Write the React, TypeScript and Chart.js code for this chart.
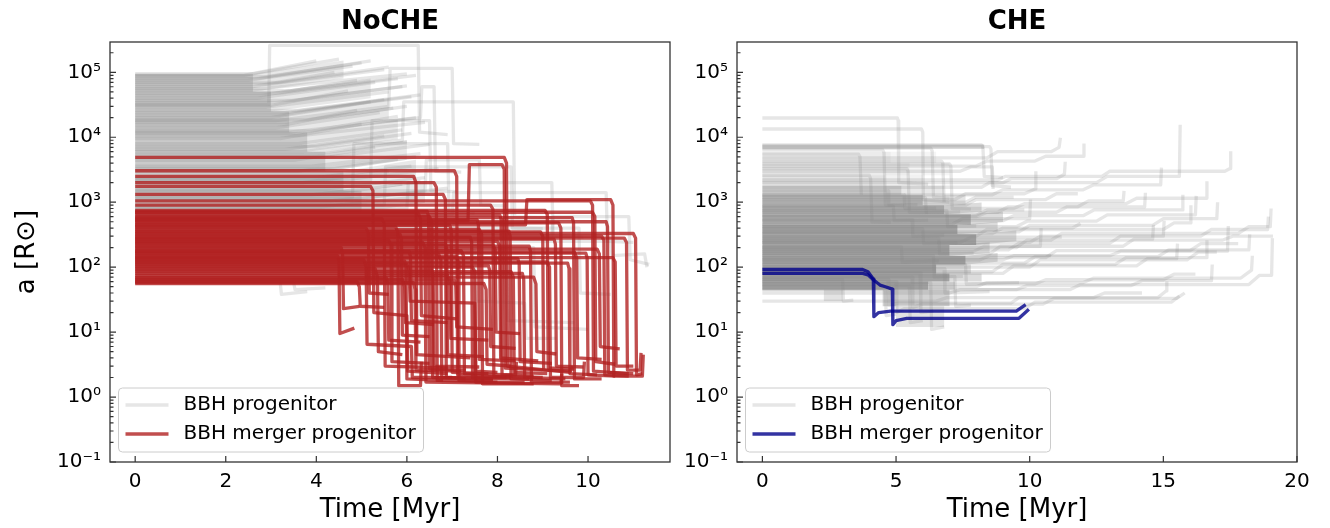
import React, { useEffect, useRef } from "react";
import { Chart, registerables } from "chart.js";

Chart.register(...registerables);

const FONT = "'DejaVu Sans', sans-serif";

// ---------------- DATA ----------------
const panelTitles = ["NoCHE", "CHE"];
const xAxisTitle = "Time [Myr]";
const yAxisTitle = "a [R⊙]";
const legendLabels = ["BBH progenitor", "BBH merger progenitor"];
const xTicksNoCHE = [0, 2, 4, 6, 8, 10];
const xTicksCHE = [0, 5, 10, 15, 20];
const yDecades = [-1, 0, 1, 2, 3, 4, 5];
const xRangeNoCHE = [-0.556, 11.81];
const xRangeCHE = [-0.95, 20];
const yRange = [0.1, 2.93e5];

// Bundles of densely packed grey tracks:
// [tStart, tFlatEnd, tEnd, aLow, aHigh, growth of a between tFlatEnd and tEnd]
const nocheGrayBundles: number[][] = [
  [0, 2.6, 4.6, 50000, 95000, 1.6],
  [0, 3.0, 5.2, 25000, 50000, 1.6],
  [0, 3.4, 5.6, 12000, 25000, 1.6],
  [0, 3.8, 5.8, 6000, 12000, 1.55],
  [0, 4.2, 6.0, 3000, 6000, 1.5],
  [0, 4.6, 6.2, 1500, 3000, 1.5],
  [0, 5.0, 6.4, 700, 1500, 1.4],
];
const nocheBundleDensity = [0.42, 0.42, 0.42, 0.42, 0.42, 0.42, 0.42];
const nocheBundleTailDensity = [0.18, 0.18, 0.18, 0.18, 0.18, 0.18, 0.18];

// Individual tracks: flat lists [t0, a0, t1, a1, ...] (Time [Myr], a [Rsun])
const nocheGray: number[][] = [
  [0, 95000, 2.6, 95000, 4.5, 160000],
  [0, 86000, 2.9, 86000, 5.0, 140000],
  [0, 76000, 2.5, 76000, 4.8, 125000],
  [0, 66000, 3.0, 66000, 5.5, 110000],
  [0, 56000, 2.8, 56000, 6.0, 95000],
  [0, 48000, 3.2, 48000, 5.8, 80000],
  [0, 40000, 2.7, 40000, 5.3, 70000],
  [0, 34000, 3.1, 34000, 5.9, 60000],
  [0, 29000, 2.9, 29000, 5.6, 50000],
  [0, 24000, 3.3, 24000, 6.1, 42000],
  [0, 20000, 3.0, 20000, 5.2, 35000],
  [0, 17000, 3.4, 17000, 5.7, 28000],
  [0, 14000, 3.1, 14000, 5.4, 24000],
  [0, 11500, 3.5, 11500, 6.2, 20000],
  [0, 9500, 3.2, 9500, 5.0, 16000],
  [0, 8000, 3.6, 8000, 5.9, 13000],
  [0, 6500, 3.3, 6500, 5.5, 10500],
  [0, 5400, 3.8, 5400, 6.0, 8500],
  [0, 4400, 3.5, 4400, 5.3, 7000],
  [0, 3600, 3.9, 3600, 6.3, 5600],
  [0, 3000, 3.6, 3000, 5.8, 4600],
  [0, 2400, 4.0, 2400, 6.1, 3600],
  [0, 2000, 3.7, 2000, 5.6, 3000],
  [0, 1600, 4.2, 1600, 6.4, 2400],
  [0, 1300, 3.9, 1300, 5.9, 1900],
  [0, 1050, 4.3, 1050, 6.6, 1500],
  [0, 850, 4.1, 850, 6.2, 1200],
  [0, 90000, 2.4, 90000, 4.0, 150000],
  [0, 80000, 2.7, 80000, 5.2, 150000],
  [0, 70000, 3.2, 70000, 5.6, 120000],
  [0, 60000, 2.6, 60000, 4.4, 100000],
  [0, 52000, 3.4, 52000, 6.2, 90000],
  [0, 44000, 2.8, 44000, 4.9, 75000],
  [0, 37000, 3.5, 37000, 6.0, 62000],
  [0, 31000, 3.0, 31000, 4.7, 52000],
  [0, 26000, 3.6, 26000, 6.3, 45000],
  [0, 22000, 3.2, 22000, 5.5, 38000],
  [0, 18500, 3.8, 18500, 6.0, 30000],
  [0, 15500, 3.3, 15500, 4.9, 26000],
  [0, 12500, 3.9, 12500, 5.8, 21000],
  [0, 10500, 3.6, 10500, 6.4, 17000],
  [0, 7200, 4.0, 7200, 6.1, 11500],
  [0, 4900, 4.2, 4900, 6.5, 7800],
  [0, 3300, 4.4, 3300, 6.2, 5000],
  [0, 2200, 4.6, 2200, 6.7, 3300],
  [0, 1450, 4.7, 1450, 6.3, 2100],
  [0, 1150, 5.0, 1150, 6.9, 1650],
  [0, 32000, 2.95, 32000, 2.97, 260000, 6.25, 260000, 6.28, 12000, 6.9, 11000],
  [0, 18000, 3.1, 18000, 5.6, 30000, 5.63, 115000, 7.0, 115000, 7.03, 8000, 7.6, 7800],
  [0, 6000, 3.7, 6000, 5.9, 9000, 5.93, 35000, 8.35, 35000, 8.38, 600, 9.2, 580],
  [0, 12000, 3.4, 12000, 6.3, 20000, 6.33, 60000, 6.6, 60000, 6.63, 3000, 7.2, 2900],
  [0, 1200, 4.8, 1200, 4.83, 8000, 6.9, 8000, 6.93, 700, 7.5, 680],
  [0, 900, 5.5, 900, 5.53, 3500, 8.3, 3500, 8.33, 400, 9.0, 390],
  [0, 800, 6.0, 800, 6.03, 2000, 9.2, 2000, 9.23, 300, 9.9, 290],
  [0, 1500, 6.4, 1500, 6.43, 4500, 7.6, 4500, 7.63, 900, 8.2, 880],
  [0, 650, 7.0, 650, 7.03, 1400, 10.4, 1400, 10.43, 250, 11.0, 240],
  [0, 2200, 5.2, 2200, 5.23, 18000, 6.5, 18000, 6.53, 1500, 7.1, 1450],
  [0, 300, 9.2, 300, 9.23, 600, 10.9, 600, 10.93, 130, 11.35, 110],
  [0, 250, 10.5, 250, 10.53, 150, 11.25, 160, 11.3, 100],
  [0, 180, 7.5, 180, 7.53, 30, 8.6, 28, 8.63, 8, 9.3, 8],
  [0, 120, 8.2, 120, 8.23, 15, 9.7, 14],
  [0, 60, 3.2, 60, 3.23, 38, 3.8, 42],
  [0, 58, 3.5, 58, 3.53, 45, 4.2, 48],
  [0, 400, 9.8, 400, 9.83, 40, 10.5, 38],
  [0, 200, 8.8, 200, 8.83, 12, 10.0, 11],
];

const nocheMerger: number[][] = [
  [0, 4900, 8.15, 4900, 8.2, 4000, 8.22, 3.0, 9.6, 2.4, 9.65, 3.0],
  [0, 3050, 7.05, 3050, 7.1, 2500, 7.12, 2.2, 8.3, 2.0],
  [0, 2500, 6.15, 2500, 6.2, 2000, 6.22, 4.5, 7.4, 4.0],
  [0, 2000, 6.6, 2000, 6.65, 1700, 6.67, 1.8, 8.0, 1.7],
  [0, 1750, 5.2, 1750, 5.25, 1500, 5.27, 20, 6.0, 18, 6.02, 2.5, 6.9, 2.3],
  [0, 1320, 6.8, 1320, 6.85, 1100, 6.87, 2.0, 7.9, 1.9],
  [0, 520, 7.35, 520, 7.38, 3800, 8.1, 3800, 8.15, 3200, 8.17, 2.8, 9.0, 2.6],
  [0, 450, 8.62, 450, 8.65, 1100, 10.5, 1100, 10.55, 900, 10.57, 2.1, 11.2, 2.1, 11.22, 4.5],
  [0, 1050, 10.05, 1050, 10.1, 900, 10.12, 2.5, 10.9, 2.3],
  [0, 700, 10.1, 700, 10.15, 600, 10.17, 3.5, 10.6, 3.2],
  [0, 330, 11.0, 330, 11.05, 280, 11.07, 2.2, 11.2, 2.3],
  [0, 280, 10.8, 280, 10.85, 240, 10.87, 2.6, 11.15, 2.6, 11.17, 4.8],
  [0, 150, 4.47, 150, 4.5, 120, 4.52, 9.5, 4.84, 11.5],
  [0, 200, 4.55, 200, 4.58, 160, 4.6, 23, 4.95, 25],
  [0, 95, 5.3, 95, 5.35, 70, 5.37, 5.0, 5.9, 4.5],
  [0, 420, 5.75, 420, 5.8, 350, 5.82, 1.5, 6.3, 1.5, 6.32, 3.5],
  [0, 240, 6.35, 240, 6.4, 200, 6.42, 1.7, 9.4, 1.6, 9.42, 2.3],
  [0, 600, 6.5, 600, 6.55, 500, 6.57, 2.0, 8.7, 1.9],
  [0, 180, 7.2, 180, 7.25, 150, 7.27, 2.3, 8.4, 2.2, 8.42, 3.5],
  [0, 380, 7.6, 380, 7.65, 320, 7.67, 1.6, 8.8, 1.6],
  [0, 130, 5.05, 130, 5.1, 100, 5.12, 6.5, 6.1, 6.0, 6.12, 2.0, 7.0, 2.0],
  [0, 560, 5.45, 560, 5.5, 470, 5.52, 3.0, 6.9, 2.8],
  [0, 110, 6.0, 110, 6.05, 90, 6.07, 30, 7.5, 28, 7.52, 2.5, 8.0, 2.4],
  [0, 250, 8.0, 250, 8.05, 210, 8.07, 4.0, 8.9, 3.6],
  [0, 350, 8.95, 350, 9.0, 300, 9.02, 2.6, 9.6, 2.5],
  [0, 480, 9.35, 480, 9.4, 400, 9.42, 1.5, 9.8, 1.5],
  [0, 170, 9.7, 170, 9.75, 140, 9.77, 4.0, 10.3, 3.8],
  [0, 300, 10.3, 300, 10.35, 260, 10.37, 2.2, 10.9, 2.1],
  [0, 75, 6.9, 75, 6.95, 60, 6.97, 8.0, 7.8, 7.5],
  [0, 65, 5.9, 65, 5.95, 50, 5.97, 14, 6.6, 13],
  [0, 220, 7.9, 220, 7.95, 185, 7.97, 10, 8.5, 9.5],
  [0, 400, 5.1, 400, 5.15, 330, 5.17, 40, 5.6, 38],
  [0, 56, 7.7, 56, 7.75, 45, 7.77, 3.2, 8.3, 3.0],
  [0, 85, 8.3, 85, 8.35, 70, 8.37, 2.4, 9.1, 2.3],
  [0, 120, 9.1, 120, 9.15, 100, 9.17, 2.0, 9.9, 2.0, 9.92, 3.5],
  [0, 140, 10.55, 140, 10.6, 120, 10.62, 3.0, 11.0, 3.0],
  [0, 680, 6.25, 680, 6.3, 560, 6.32, 18, 7.1, 16],
  [0, 160, 6.7, 160, 6.75, 130, 6.77, 2.0, 7.3, 1.9],
  [0, 260, 5.6, 260, 5.65, 220, 5.67, 3.5, 6.5, 3.3],
  [0, 70, 8.8, 70, 8.85, 55, 8.87, 5, 9.3, 4.6],
  [0, 100, 7.45, 100, 7.5, 85, 7.52, 1.7, 8.6, 1.7],
  [0, 190, 10.2, 190, 10.25, 160, 10.27, 6.0, 10.7, 5.5],
  [0, 60, 4.9, 60, 4.95, 50, 4.97, 25, 5.5, 24],
  [0, 750, 9.05, 750, 9.1, 650, 9.12, 2.8, 9.7, 2.7],
  [0, 900, 7.85, 900, 7.9, 780, 7.92, 2.1, 9.0, 2.0],
  [0, 58, 6.15, 58, 6.18, 45, 6.2, 2.6, 7.2, 2.5],
  [0, 63, 7.05, 63, 7.08, 50, 7.1, 12, 7.9, 11],
  [0, 68, 5.55, 68, 5.58, 55, 5.6, 7.5, 6.3, 7.0],
  [0, 80, 8.55, 80, 8.58, 65, 8.6, 2.0, 9.5, 1.9],
  [0, 90, 6.55, 90, 6.58, 75, 6.6, 3.0, 7.6, 2.9],
  [0, 105, 7.8, 105, 7.83, 88, 7.85, 6.0, 8.4, 5.6],
  [0, 115, 9.55, 115, 9.58, 95, 9.6, 2.3, 10.2, 2.2],
  [0, 125, 5.95, 125, 5.98, 100, 6.0, 1.9, 6.8, 1.8],
  [0, 135, 8.45, 135, 8.48, 110, 8.5, 3.5, 9.2, 3.3],
  [0, 145, 7.1, 145, 7.13, 120, 7.15, 1.8, 7.9, 1.8],
  [0, 165, 9.95, 165, 9.98, 140, 10.0, 2.2, 10.6, 2.1],
  [0, 175, 6.05, 175, 6.08, 145, 6.1, 15, 6.9, 14],
  [0, 210, 8.7, 210, 8.73, 175, 8.75, 1.7, 9.6, 1.7],
  [0, 230, 6.85, 230, 6.88, 190, 6.9, 4.5, 7.7, 4.2],
  [0, 270, 9.25, 270, 9.28, 225, 9.3, 3.0, 9.9, 2.9],
  [0, 290, 7.4, 290, 7.43, 245, 7.45, 2.0, 8.2, 2.0],
  [0, 320, 5.85, 320, 5.88, 270, 5.9, 9.0, 6.5, 8.5],
  [0, 360, 8.25, 360, 8.28, 300, 8.3, 1.9, 9.2, 1.8],
  [0, 440, 6.95, 440, 6.98, 370, 7.0, 2.4, 7.8, 2.3],
  [0, 500, 10.4, 500, 10.43, 420, 10.45, 2.4, 11.0, 2.3],
  [0, 540, 7.55, 540, 7.58, 450, 7.6, 3.8, 8.4, 3.6],
  [0, 580, 9.65, 580, 9.68, 490, 9.7, 1.9, 10.3, 1.9],
  [0, 640, 8.05, 640, 8.08, 540, 8.1, 2.2, 8.8, 2.1],
  [0, 720, 6.45, 720, 6.48, 600, 6.5, 2.7, 7.3, 2.6],
];

// CHE bundles: [tStart, tFlatEnd, tEnd, aLow, aHigh, growth]
const cheGrayBundles: number[][] = [
  [0, 6.2, 7.2, 45, 60, 1],
  [0, 7.0, 8.2, 60, 80, 1],
  [0, 6.5, 7.8, 80, 110, 1],
  [0, 7.6, 8.8, 110, 150, 1.1],
  [0, 7.0, 8.5, 150, 220, 1.1],
  [0, 8.0, 9.5, 220, 320, 1.15],
  [0, 7.3, 8.8, 320, 450, 1.1],
  [0, 7.8, 9.0, 450, 650, 1.1],
  [0, 6.8, 8.2, 650, 900, 1.1],
  [0, 6.0, 7.6, 900, 1300, 1],
  [0, 5.2, 6.8, 1300, 1800, 1],
  [0, 4.6, 6.0, 1800, 2600, 1],
  [0, 5.5, 7.0, 2600, 4000, 1],
  [0, 4.8, 6.5, 4000, 6000, 1],
  [0, 8.3, 8.3, 6600, 7800, 1],
  [4.5, 7.0, 7.0, 25, 45, 1],
  [5.0, 6.8, 6.8, 12, 25, 1],
  [2.3, 3.0, 3.0, 30, 45, 1],
];
const cheBundleDensity = [0.7, 0.72, 0.74, 0.72, 0.74, 0.72, 0.74, 0.66, 0.64, 0.56, 0.4, 0.22, 0.15, 0.15, 0.25, 0.35, 0.22, 0.22];
const cheBundleTailDensity = [0.28, 0.28, 0.28, 0.28, 0.28, 0.28, 0.28, 0.28, 0.28, 0.22, 0.18, 0.1, 0.08, 0.08, 0, 0, 0, 0];

const cheGray: number[][] = [
  [0, 46, 4.6, 46, 4.63, 18, 5.0, 19],
  [0, 52, 5.5, 52, 5.53, 14, 6.0, 15],
  [0, 58, 6.3, 58, 6.33, 11, 6.8, 12],
  [0, 64, 3.0, 64, 3.03, 30, 3.4, 31],
  [0, 72, 7.2, 72, 7.23, 25, 7.8, 26],
  [0, 82, 5.9, 82, 5.93, 20, 6.4, 21],
  [0, 95, 6.8, 95, 6.83, 40, 8.5, 42],
  [0, 110, 7.6, 110, 7.63, 55, 9.6, 58],
  [0, 128, 8.1, 128, 8.5, 150, 10.8, 150],
  [0, 150, 6.4, 150, 6.43, 70, 7.5, 72],
  [0, 175, 7.9, 175, 8.3, 210, 10.4, 210, 10.43, 400],
  [0, 205, 5.2, 205, 5.23, 120, 6.6, 125],
  [0, 240, 7.4, 240, 7.8, 290, 11.2, 290],
  [0, 280, 6.6, 280, 6.63, 160, 7.9, 165],
  [0, 330, 8.6, 330, 9.0, 400, 11.6, 400, 11.9, 470],
  [0, 390, 6.0, 390, 6.03, 230, 7.3, 235],
  [0, 460, 7.1, 460, 7.5, 560, 10.0, 560, 10.03, 1100],
  [0, 540, 5.6, 540, 5.63, 300, 6.8, 310],
  [0, 630, 8.0, 630, 8.4, 760, 9.8, 760],
  [0, 740, 6.9, 740, 6.93, 420, 8.0, 430],
  [0, 870, 4.9, 870, 4.93, 520, 6.2, 530],
  [0, 1000, 7.6, 1000, 8.0, 1200, 9.4, 1200],
  [0, 1180, 6.1, 1180, 6.13, 700, 7.4, 710],
  [0, 1300, 5.3, 1300, 5.33, 800, 6.5, 810],
  [0, 1500, 4.7, 1500, 4.73, 900, 5.8, 920],
  [0, 19800, 5.05, 19800, 5.08, 18000, 5.1, 2000, 6.2, 1900],
  [0, 13400, 5.95, 13400, 6.0, 12000, 6.02, 1100, 7.0, 1000],
  [0, 7600, 8.2, 7600, 8.25, 7000, 8.3, 2500, 9.0, 2400],
  [0, 7200, 8.5, 7200, 8.55, 6600, 8.6, 1800, 9.3, 1700],
  [0, 6800, 6.3, 6800, 6.35, 6200, 6.4, 1200, 7.0, 1150],
  [0, 6400, 4.5, 6400, 4.55, 5800, 4.6, 900, 5.3, 880],
  [0, 4800, 8.4, 4800, 8.8, 6000, 10.8, 6000, 11.1, 7000, 11.15, 9800],
  [0, 3900, 7.0, 3900, 7.05, 3600, 7.1, 800, 7.8, 780],
  [0, 3300, 5.4, 3300, 5.45, 3000, 5.5, 700, 6.2, 690],
  [0, 2200, 8.8, 2200, 9.1, 2500, 12.7, 2500, 13.0, 3000, 17.3, 3000, 17.5, 3300, 17.52, 6100],
  [0, 1700, 8.2, 1700, 8.5, 2000, 12.5, 2000, 12.9, 2500, 15.6, 2500, 15.63, 15600],
  [0, 2600, 4.0, 2600, 4.05, 2300, 4.1, 500, 4.8, 490],
  [0, 2000, 9.0, 2000, 9.3, 2300, 11.0, 2300, 11.3, 2700, 11.33, 4200],
  [0, 5500, 3.6, 5500, 3.65, 5000, 3.7, 1300],
  [0, 4300, 6.7, 4300, 6.75, 4000, 6.8, 1000],
  [0, 3000, 7.4, 3000, 7.8, 3500, 8.6, 3500, 8.63, 1600],
  [0, 600, 8.0, 600, 8.4, 700, 11.0, 700, 11.4, 850, 14.3, 850, 14.33, 1400],
  [0, 520, 9.0, 520, 9.4, 620, 12.0, 620, 12.4, 760, 15.7, 760, 15.73, 1300],
  [0, 420, 9.5, 420, 9.9, 510, 12.5, 510, 12.9, 640, 16.2, 640, 16.23, 1250],
  [0, 130, 9.0, 130, 9.4, 150, 13.0, 150, 13.4, 176, 17.4, 176, 17.43, 430],
  [0, 40, 7.0, 40, 7.4, 45, 11.5, 45, 11.9, 54, 18.2, 54, 18.6, 75, 19.05, 75, 19.08, 280],
  [0, 50, 8.0, 50, 8.4, 58, 12.0, 58, 12.4, 68, 17.9, 68, 18.3, 90, 18.33, 150],
  [0, 60, 5.0, 60, 5.03, 20, 5.3, 23, 9.8, 23, 10.2, 29, 15.3, 29, 15.6, 36],
  [0, 70, 5.6, 70, 5.63, 24, 6.0, 27, 10.5, 27, 10.9, 33, 15.5, 33, 15.8, 40],
  [0, 65, 4.7, 65, 4.73, 26, 5.1, 28, 9.3, 28, 9.6, 34, 14.8, 34, 15.1, 43, 15.13, 60],
  [0, 80, 9.0, 80, 9.4, 105, 14.0, 105, 14.4, 135, 15.5, 135, 15.53, 230],
  [0, 100, 10.0, 100, 10.4, 130, 15.9, 130, 16.3, 170, 17.0, 170],
  [0, 160, 8.5, 160, 8.9, 210, 13.5, 210, 13.9, 270, 14.6, 270, 14.63, 450],
  [0, 200, 9.5, 200, 9.9, 260, 17.2, 260, 17.6, 300, 19.1, 300],
  [0, 300, 8.0, 300, 8.4, 380, 15.0, 380, 15.4, 480, 16.0, 480, 16.03, 900],
  [0, 700, 8.8, 700, 9.2, 850, 11.8, 850, 12.2, 1050, 13.5, 1050, 13.53, 1500],
  [0, 900, 7.6, 900, 8.0, 1100, 10.6, 1100, 11.0, 1350, 11.8, 1350],
  [0, 1100, 7.2, 1100, 7.6, 1350, 9.8, 1350, 10.2, 1600, 10.23, 3000],
  [0, 240, 10.0, 240, 10.4, 300, 16.4, 300, 16.8, 380, 18.9, 380, 18.93, 600],
  [0, 85, 8.6, 85, 9.0, 110, 13.2, 110, 13.6, 140, 16.6, 140, 16.63, 260],
  [0, 115, 9.8, 115, 10.2, 145, 14.8, 145, 15.2, 185, 18.2, 185, 18.23, 320],
  [0, 140, 10.6, 140, 11.0, 180, 16.0, 180, 16.4, 230, 17.8, 230],
  [0, 185, 9.2, 185, 9.6, 235, 13.0, 235, 13.4, 300, 15.0, 300, 15.03, 520],
  [0, 260, 10.8, 260, 11.2, 330, 17.8, 330, 18.2, 420, 19.0, 420, 19.03, 800],
  [0, 350, 9.6, 350, 10.0, 440, 14.6, 440, 15.0, 560, 17.0, 560, 17.03, 1000],
  [0, 45, 9.5, 45, 9.9, 52, 13.8, 52, 14.2, 62, 16.8, 62, 16.83, 110],
  [0, 55, 10.2, 55, 10.6, 64, 15.0, 64, 15.4, 78, 16.2, 78],
  [0, 30, 6.5, 30, 6.9, 34, 12.4, 34, 12.8, 40, 14.2, 40],
  [0, 1300, 8.6, 1300, 9.0, 1550, 12.0, 1550, 12.4, 1850, 14.9, 1850, 14.93, 3400],
  [0, 800, 9.4, 800, 9.8, 950, 13.6, 950, 14.0, 1150, 16.6, 1150, 16.63, 2100],
  [0, 3600, 8.0, 3600, 8.4, 4300, 10.2, 4300, 10.6, 5100, 12.0, 5100, 12.03, 8000],
];

const cheMerger: number[][] = [
  [0, 92, 3.75, 92, 3.95, 85, 4.15, 66, 4.17, 17.3, 4.35, 20, 4.8, 21, 9.5, 21, 9.85, 26.5],
  [0, 80, 3.75, 80, 3.95, 76, 4.15, 64, 4.4, 53, 4.6, 50, 4.86, 46, 4.88, 13, 5.0, 15, 5.4, 16.3, 9.6, 16.3, 9.97, 22.5],
];

// ---------------- STYLE ----------------
const GRAY = "rgba(128,128,128,0.2)";
const RED = "rgba(178,34,34,0.8)";
const BLUE = "rgba(0,0,139,0.8)";
const LINE_W = 3.3;

const SUP: Record<string, string> = { "-": "⁻", "0": "⁰", "1": "¹", "2": "²", "3": "³", "4": "⁴", "5": "⁵", "6": "⁶", "7": "⁷", "8": "⁸", "9": "⁹" };
const supLabel = (e: number) => "10" + String(e).split("").map((c) => SUP[c]).join("");

function toPts(a: number[]) {
  const out: { x: number; y: number }[] = [];
  for (let i = 0; i + 1 < a.length; i += 2) out.push({ x: a[i], y: a[i + 1] });
  return out;
}

type Panel = {
  title: string;
  xRange: number[];
  xTicks: number[];
  bundles: number[][];
  density: number[];
  tailDensity: number[];
  gray: number[][];
  merger: number[][];
  mergerColor: string;
  showYTitle: boolean;
  yAxisWidth: number;
  rightPad: number;
  width: number;
};

function makeDeco(p: Panel) {
  return {
    id: "deco",
    afterDatasetsDraw(chart: any) {
      const { ctx, chartArea: a, scales } = chart;
      const xs = scales.x, ys = scales.y;
      ctx.save();
      const bx = a.left + 8.5, by = a.bottom - 74, bw = 305, bh = 64;
      ctx.beginPath();
      if ((ctx as any).roundRect) (ctx as any).roundRect(bx, by, bw, bh, 4);
      else ctx.rect(bx, by, bw, bh);
      ctx.fillStyle = "rgba(255,255,255,0.8)";
      ctx.fill();
      ctx.strokeStyle = "#cccccc";
      ctx.lineWidth = 1;
      ctx.stroke();
      const entries = [
        { label: legendLabels[0], color: GRAY, y: by + 17 },
        { label: legendLabels[1], color: p.mergerColor, y: by + 46 },
      ];
      ctx.font = `20px ${FONT}`;
      ctx.textBaseline = "middle";
      ctx.textAlign = "left";
      for (const e of entries) {
        ctx.beginPath();
        ctx.strokeStyle = e.color;
        ctx.lineWidth = LINE_W;
        ctx.moveTo(bx + 7, e.y);
        ctx.lineTo(bx + 50, e.y);
        ctx.stroke();
        ctx.fillStyle = "#000";
        ctx.fillText(e.label, bx + 65, e.y);
      }
      ctx.strokeStyle = "#333";
      ctx.lineWidth = 1.2;
      ctx.beginPath();
      for (const v of p.xTicks) {
        const px = xs.getPixelForValue(v);
        ctx.moveTo(px, a.bottom);
        ctx.lineTo(px, a.bottom - 6);
      }
      for (const d of yDecades) {
        for (let m = 1; m <= 9; m++) {
          const v = m * Math.pow(10, d);
          if (v > yRange[1]) break;
          const py = ys.getPixelForValue(v);
          ctx.moveTo(a.left, py);
          ctx.lineTo(a.left + (m === 1 ? 6 : 3.5), py);
        }
      }
      ctx.stroke();
      ctx.strokeStyle = "#333";
      ctx.lineWidth = 1.3;
      ctx.strokeRect(a.left, a.top, a.right - a.left, a.bottom - a.top);
      ctx.restore();
    },
  };
}

function buildConfig(p: Panel): any {
  // listed bottom-most first; each dataset gets a decreasing "order" so later ones are painted on top
  const layers: any[] = [];
  p.bundles.forEach((b, i) => {
    const [t0, t1, t2, lo, hi, g] = b;
    layers.push({
      data: toPts([t0, lo, t1, lo, t1, hi, t0, hi]),
      fill: "shape",
      backgroundColor: `rgba(128,128,128,${p.density[i]})`,
      borderWidth: 0,
      pointRadius: 0,
    });
    if (t2 > t1 && p.tailDensity[i] > 0) {
      layers.push({
        data: toPts([t1, lo, t2, lo * g, t2, hi * g, t1, hi]),
        fill: "shape",
        backgroundColor: `rgba(128,128,128,${p.tailDensity[i]})`,
        borderWidth: 0,
        pointRadius: 0,
      });
    }
  });
  for (const gtr of p.gray) {
    layers.push({ data: toPts(gtr), borderColor: GRAY, borderWidth: LINE_W, pointRadius: 0, fill: false, borderJoinStyle: "round" });
  }
  for (const m of p.merger) {
    layers.push({ data: toPts(m), borderColor: p.mergerColor, borderWidth: LINE_W, pointRadius: 0, fill: false, borderJoinStyle: "round" });
  }
  const n = layers.length;
  const datasets = layers.map((d, i) => ({ ...d, order: n - i }));
  return {
    type: "line",
    data: { datasets },
    plugins: [makeDeco(p)],
    options: {
      animation: false,
      responsive: false,
      maintainAspectRatio: false,
      events: [],
      layout: { padding: { left: 0, right: p.rightPad, top: 0, bottom: 0 } },
      plugins: {
        legend: { display: false },
        tooltip: { enabled: false },
        title: {
          display: true,
          text: p.title,
          fullSize: false,
          color: "#000",
          font: { family: FONT, size: 26, weight: "bold" },
          padding: { top: 6.4, bottom: 4.4 },
        },
      },
      scales: {
        x: {
          type: "linear",
          min: p.xRange[0],
          max: p.xRange[1],
          afterBuildTicks: (s: any) => {
            s.ticks = p.xTicks.map((v) => ({ value: v }));
          },
          afterFit: (s: any) => {
            s.height = 66;
          },
          grid: { display: false, drawTicks: false },
          border: { display: false },
          ticks: { color: "#000", font: { family: FONT, size: 20 }, padding: 8, maxRotation: 0, autoSkip: false },
          title: { display: true, text: xAxisTitle, color: "#000", font: { family: FONT, size: 26 }, padding: { top: 0, bottom: 2.4 } },
        },
        y: {
          type: "logarithmic",
          min: yRange[0],
          max: yRange[1],
          afterBuildTicks: (s: any) => {
            s.ticks = yDecades.map((d) => ({ value: Math.pow(10, d) }));
          },
          afterFit: (s: any) => {
            s.width = p.yAxisWidth;
          },
          grid: { display: false, drawTicks: false },
          border: { display: false },
          ticks: {
            color: "#000",
            font: { family: FONT, size: 20 },
            padding: 9,
            autoSkip: false,
            callback: (v: any) => supLabel(Math.round(Math.log10(Number(v)))),
          },
          title: { display: p.showYTitle, text: yAxisTitle, color: "#000", font: { family: FONT, size: 26 }, padding: { top: 12, bottom: 0 } },
        },
      },
    },
  };
}

const panels: Panel[] = [
  {
    title: panelTitles[0],
    xRange: xRangeNoCHE,
    xTicks: xTicksNoCHE,
    bundles: nocheGrayBundles,
    density: nocheBundleDensity,
    tailDensity: nocheBundleTailDensity,
    gray: nocheGray,
    merger: nocheMerger,
    mergerColor: RED,
    showYTitle: true,
    yAxisWidth: 110,
    rightPad: 10,
    width: 680,
  },
  {
    title: panelTitles[1],
    xRange: xRangeCHE,
    xTicks: xTicksCHE,
    bundles: cheGrayBundles,
    density: cheBundleDensity,
    tailDensity: cheBundleTailDensity,
    gray: cheGray,
    merger: cheMerger,
    mergerColor: BLUE,
    showYTitle: false,
    yAxisWidth: 57,
    rightPad: 33,
    width: 650,
  },
];

function PanelChart({ p, left }: { p: Panel; left: number }) {
  const ref = useRef<HTMLCanvasElement | null>(null);
  useEffect(() => {
    if (!ref.current) return;
    const chart = new Chart(ref.current, buildConfig(p));
    return () => chart.destroy();
  }, [p]);
  return (
    <canvas
      ref={ref}
      width={p.width}
      height={528}
      style={{ position: "absolute", left, top: 0, width: p.width, height: 528 }}
    />
  );
}

export default function App() {
  return (
    <div style={{ position: "fixed", left: 0, top: 0, width: 1330, height: 528, background: "#fff" }}>
      <PanelChart p={panels[0]} left={0} />
      <PanelChart p={panels[1]} left={680} />
    </div>
  );
}
